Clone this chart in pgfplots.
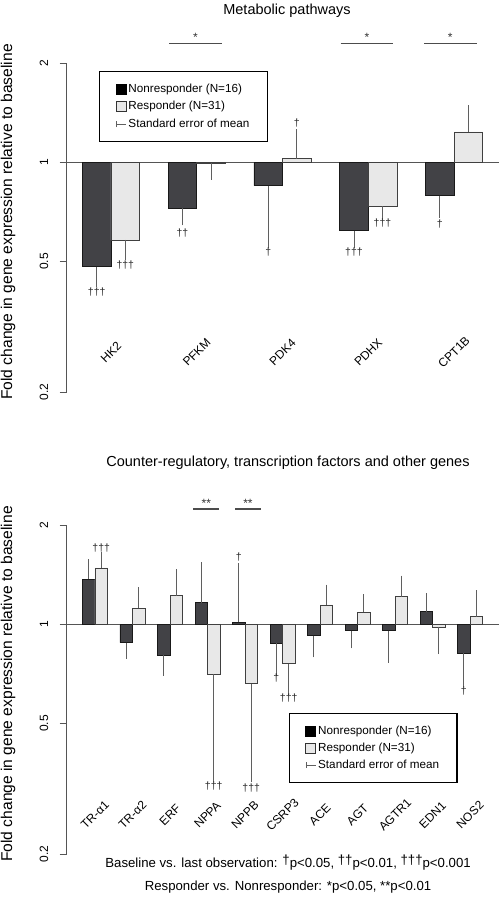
\documentclass[border=0pt]{standalone}
\usepackage{pgfplots}
\usepackage{pgfplotstable}
\pgfplotsset{compat=1.18}
\usepackage{fontspec}
\setmainfont{Liberation Sans}
\newcommand\fs[1]{\fontsize{#1}{#1}\selectfont}
\definecolor{nr}{RGB}{66,66,70}
\definecolor{rs}{RGB}{232,232,232}
\definecolor{eb}{RGB}{95,95,95}
\definecolor{ax}{RGB}{85,85,85}

% ---------- top panel data ----------
\pgfplotstableread{
x y
96.71 0.482
182.46 0.725
268.21 0.849
353.96 0.620
439.71 0.792
}\topNR
\pgfplotstableread{
x y
125.29 0.581
211.04 0.993
296.79 1.025
382.54 0.735
468.29 1.238
}\topR
\pgfplotstableread{
x y e
96.71 0.482 0.051
182.46 0.725 0.063
268.21 0.849 0.284
353.96 0.620 0.054
439.71 0.792 0.095
125.29 0.581 0.061
211.04 0.993 0.084
382.54 0.735 0.043
}\topDown
\pgfplotstableread{
x y e
296.79 1.025 0.200
468.29 1.238 0.210
}\topUp

% ---------- bottom panel data ----------
\pgfplotstableread{
x y
88.75 1.370
126.25 0.880
163.75 0.807
201.25 1.164
238.75 1.014
276.25 0.875
313.75 0.924
351.25 0.957
388.75 0.957
426.25 1.093
463.75 0.816
}\botNR
\pgfplotstableread{
x y
101.25 1.484
138.75 1.118
176.25 1.222
213.75 0.706
251.25 0.660
288.75 0.759
326.25 1.145
363.75 1.088
401.25 1.214
438.75 0.979
476.25 1.055
}\botR
\pgfplotstableread{
x y e
126.25 0.880 0.073
163.75 0.807 0.089
276.25 0.875 0.157
313.75 0.924 0.108
351.25 0.957 0.088
388.75 0.957 0.171
463.75 0.816 0.154
213.75 0.706 0.364
251.25 0.660 0.320
288.75 0.759 0.131
438.75 0.979 0.144
}\botDown
\pgfplotstableread{
x y e
88.75 1.370 0.163
201.25 1.164 0.340
238.75 1.014 0.476
426.25 1.093 0.115
101.25 1.484 0.129
138.75 1.118 0.142
176.25 1.222 0.210
326.25 1.145 0.139
363.75 1.088 0.114
401.25 1.214 0.153
476.25 1.055 0.179
}\botUp

\tikzset{
  dag/.style={font=\fs{10.5}, inner sep=0pt, text=black!85},
  sig/.style={draw=black!70, line width=1.4pt},
  star/.style={font=\fs{12}, anchor=base, yshift=1.5pt, inner sep=0pt, text=black!80},
  ttl/.style={font=\fs{14.5}, anchor=base, inner sep=0pt},
}

\begin{document}
\begin{tikzpicture}[x=1pt,y=1pt]
\path[use as bounding box] (0,0) rectangle (499,900);

% ================= TOP PANEL =================
\begin{axis}[
    at={(66.7pt,507.7pt)},
    anchor=south west, scale only axis, width=432.3pt, height=329pt,
    xmin=66.7, xmax=499, ymode=log, ymin=0.2, ymax=2, log origin y=0,
    enlargelimits=false, clip=false,
    axis lines=left, axis line style={-, draw=ax, line width=0.8pt},
    x axis line style={draw=none},
    ytick={0.2,0.5,1,2}, yticklabels={0.2,0.5,1,2},
    yminorticks=false, xminorticks=false,
    tick align=outside, major tick length=7pt,
    ytick style={draw=ax, line width=0.8pt}, xtick style={draw=none},
    yticklabel style={rotate=90, anchor=south, font=\fs{12}},
    yticklabel shift=8pt,
    xticklabel style={rotate=45, anchor=center, font=\fs{12}, inner sep=0pt},
    xticklabel shift=-47pt,
    ylabel={Fold change in gene expression relative to baseline},
    ylabel style={at={(axis description cs:-0.1358,0.5176)}, anchor=center, font=\fs{15.6}},
    legend cell align=left,
    legend style={at={(axis description cs:0.0747,0.9775)}, anchor=north west, draw=black, line width=1.4pt, font=\fs{11.7},
      inner xsep=16pt, inner ysep=10.5pt, row sep=3.6pt, fill=white},
  xtick={111,196.75,282.5,368.25,454},
  xticklabels={HK2,PFKM,PDK4,PDHX,CPT1B},
]
\addplot[draw=ax, line width=0.8pt, forget plot] coordinates {(66.7,1) (499,1)};
\addplot[ybar, bar shift=0pt, bar width=28.58, fill=nr, draw=black!90, line width=0.6pt, forget plot] table[x=x,y=y] {\topNR};
\addplot[ybar, bar shift=0pt, bar width=28.58, fill=rs, draw=black!75, line width=0.6pt, forget plot] table[x=x,y=y] {\topR};
\addplot[draw=none, mark=none, forget plot,
    error bars/.cd, y dir=minus, y explicit,
    error bar style={draw=eb, line width=0.8pt},
    error mark options={draw=eb, line width=0.8pt, mark size=4pt}]
  table[x=x,y=y,y error minus=e] {\topDown};
\addplot[draw=none, mark=none, forget plot,
    error bars/.cd, y dir=plus, y explicit,
    error bar style={draw=eb, line width=0.8pt},
    error mark options={draw=eb, line width=0.8pt, mark size=4pt}]
  table[x=x,y=y,y error plus=e] {\topUp};

\addlegendimage{legend image code/.code={\draw[fill=black,draw=black,line width=0.6pt] (0pt,-5pt) rectangle (10pt,5pt);}}
\addlegendentry{Nonresponder (N=16)}
\addlegendimage{legend image code/.code={\draw[fill=rs,draw=black!80,line width=0.6pt] (0pt,-5pt) rectangle (10pt,5pt);}}
\addlegendentry{Responder (N=31)}
\addlegendimage{legend image code/.code={\draw[eb,line width=0.8pt] (0pt,0pt)--(10pt,0pt) (0.4pt,-3pt)--(0.4pt,3pt);}}
\addlegendentry{Standard error of mean}

\node[ttl] at (axis description cs:0.5096,1.1468) {Metabolic pathways};

\node[dag] at (axis cs:96.7,0.402) {†††};
\node[dag] at (axis cs:125.3,0.486) {†††};
\node[dag] at (axis cs:182.5,0.610) {††};
\node[dag] at (axis cs:268.2,0.532) {†};
\node[dag] at (axis cs:296.8,1.316) {†};
\node[dag] at (axis cs:354,0.532) {†††};
\node[dag] at (axis cs:382.5,0.656) {†††};
\node[dag] at (axis cs:439.7,0.650) {†};
\draw[sig] (axis cs:169.3,2.297) -- (axis cs:221.7,2.297);
\node[star] at (axis cs:195.5,2.297) {*};
\draw[sig] (axis cs:340.7,2.297) -- (axis cs:393.3,2.297);
\node[star] at (axis cs:367,2.297) {*};
\draw[sig] (axis cs:424,2.297) -- (axis cs:476.7,2.297);
\node[star] at (axis cs:450.3,2.297) {*};
\end{axis}

% ================= BOTTOM PANEL =================
\begin{axis}[
    at={(66.7pt,45.7pt)},
    anchor=south west, scale only axis, width=432.3pt, height=329pt,
    xmin=66.7, xmax=499, ymode=log, ymin=0.2, ymax=2, log origin y=0,
    enlargelimits=false, clip=false,
    axis lines=left, axis line style={-, draw=ax, line width=0.8pt},
    x axis line style={draw=none},
    ytick={0.2,0.5,1,2}, yticklabels={0.2,0.5,1,2},
    yminorticks=false, xminorticks=false,
    tick align=outside, major tick length=7pt,
    ytick style={draw=ax, line width=0.8pt}, xtick style={draw=none},
    yticklabel style={rotate=90, anchor=south, font=\fs{12}},
    yticklabel shift=8pt,
    xticklabel style={rotate=45, anchor=center, font=\fs{12}, inner sep=0pt},
    xticklabel shift=-46.5pt,
    ylabel={Fold change in gene expression relative to baseline},
    ylabel style={at={(axis description cs:-0.1358,0.5176)}, anchor=center, font=\fs{15.6}},
    legend cell align=left,
    legend style={at={(axis description cs:0.5135,0.4304)}, anchor=north west, draw=black, line width=1.4pt, font=\fs{11.7},
      inner xsep=16pt, inner ysep=10.5pt, row sep=3.2pt, fill=white},
  xtick={95,132.5,170,207.5,245,282.5,320,357.5,395,432.5,470},
  xticklabels={TR-α1,TR-α2,ERF,NPPA,NPPB,CSRP3,ACE,AGT,AGTR1,EDN1,NOS2},
]
\addplot[draw=ax, line width=0.8pt, forget plot] coordinates {(66.7,1) (499,1)};
\addplot[ybar, bar shift=0pt, bar width=12.5, fill=nr, draw=black!90, line width=0.6pt, forget plot] table[x=x,y=y] {\botNR};
\addplot[ybar, bar shift=0pt, bar width=12.5, fill=rs, draw=black!75, line width=0.6pt, forget plot] table[x=x,y=y] {\botR};
\addplot[draw=none, mark=none, forget plot,
    error bars/.cd, y dir=minus, y explicit,
    error bar style={draw=eb, line width=0.8pt},
    error mark options={draw=eb, line width=0.8pt, mark size=4pt}]
  table[x=x,y=y,y error minus=e] {\botDown};
\addplot[draw=none, mark=none, forget plot,
    error bars/.cd, y dir=plus, y explicit,
    error bar style={draw=eb, line width=0.8pt},
    error mark options={draw=eb, line width=0.8pt, mark size=4pt}]
  table[x=x,y=y,y error plus=e] {\botUp};

\addlegendimage{legend image code/.code={\draw[fill=black,draw=black,line width=0.6pt] (0pt,-5pt) rectangle (10pt,5pt);}}
\addlegendentry{Nonresponder (N=16)}
\addlegendimage{legend image code/.code={\draw[fill=rs,draw=black!80,line width=0.6pt] (0pt,-5pt) rectangle (10pt,5pt);}}
\addlegendentry{Responder (N=31)}
\addlegendimage{legend image code/.code={\draw[eb,line width=0.8pt] (0pt,0pt)--(10pt,0pt) (0.4pt,-3pt)--(0.4pt,3pt);}}
\addlegendentry{Standard error of mean}

\node[ttl] at (axis description cs:0.5119,1.1802) {Counter-regulatory, transcription factors and other genes};

\node[dag] at (axis cs:101.25,1.703) {†††};
\node[dag] at (axis cs:213.75,0.323) {†††};
\node[dag] at (axis cs:238.75,1.605) {†};
\node[dag] at (axis cs:251.25,0.319) {†††};
\node[dag] at (axis cs:276.25,0.688) {†};
\node[dag] at (axis cs:288.75,0.598) {†††};
\node[dag] at (axis cs:463.75,0.627) {†};
\draw[sig] (axis cs:193.3,2.242) -- (axis cs:219.3,2.242);
\node[star] at (axis cs:206.3,2.242) {**};
\draw[sig] (axis cs:235,2.242) -- (axis cs:261,2.242);
\node[star] at (axis cs:248,2.242) {**};
\node[anchor=base, font=\fs{13.2}, inner sep=0pt] at (axis description cs:0.512,-0.0395)
  {Baseline vs. last observation: \raisebox{3pt}{†}p<0.05, \raisebox{3pt}{††}p<0.01, \raisebox{3pt}{†††}p<0.001};
\node[anchor=base, font=\fs{13.2}, inner sep=0pt] at (axis description cs:0.512,-0.1106)
  {Responder vs. Nonresponder: *p<0.05, **p<0.01};
\end{axis}
\end{tikzpicture}
\end{document}
